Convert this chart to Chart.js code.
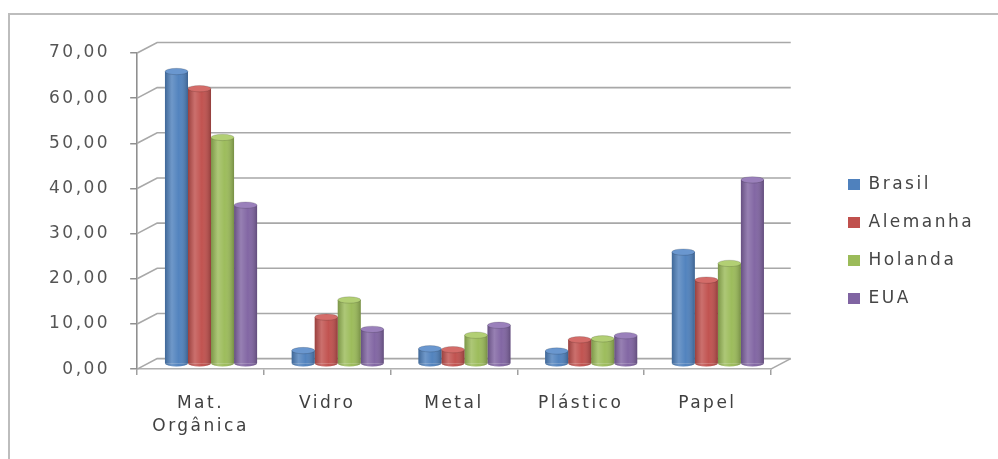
<!DOCTYPE html>
<html>
<head>
<meta charset="utf-8">
<script src="https://cdn.jsdelivr.net/npm/chart.js@4.4.1/dist/chart.umd.min.js"></script>
<style>
    html, body { margin: 0; padding: 0; background: #fff; }
    canvas { display: block; }
</style>
</head>
<body>
<canvas id="chart" width="998" height="459"></canvas>
<script>
/* ================= DATA ================= */

const categories = [["Mat.", "Orgânica"], "Vidro", "Metal", "Plástico", "Papel"];
const seriesNames = ["Brasil", "Alemanha", "Holanda", "EUA"];

const brasil   = [64.8, 3.0, 3.4, 2.9, 24.8];
const alemanha = [61.0, 10.4, 3.2, 5.4, 18.6];
const holanda  = [50.2, 14.2, 6.4, 5.6, 22.3];
const eua      = [35.2, 7.7, 8.6, 6.3, 40.8];

const yMin = 0;
const yMax = 70;
const yStep = 10;

/* ================= STYLE ================= */

const FONT = "'DejaVu Sans', sans-serif";
const SPACING = "2.5px";
const colors = ["#4F81BD", "#C0504D", "#9BBB59", "#8064A2"];
const topColors = ["#6a97cf", "#d46c69", "#b2cf74", "#9a80bb"];

// fake 3D depth of the back wall and of the bars
const DEPTH_X = 20, DEPTH_Y = 10.5;
const BAR_X = 10.5, BAR_Y = 5;
const LEGEND_LEFT = 827, LEGEND_TOP = 155;

/* ================= PLUGINS ================= */

const spacingPlugin = {
    id: "spacing",
    beforeUpdate(chart) { chart.ctx.letterSpacing = SPACING; },
    beforeLayout(chart) { chart.ctx.letterSpacing = SPACING; },
    beforeDraw(chart) { chart.ctx.letterSpacing = SPACING; }
};

const framePlugin = {
    id: "frame",
    beforeDraw(chart) {
        const ctx = chart.ctx;
        ctx.save();
        ctx.strokeStyle = "#bdbdbd";
        ctx.lineWidth = 2;
        ctx.beginPath();
        ctx.moveTo(9, 459);
        ctx.lineTo(9, 14);
        ctx.lineTo(998, 14);
        ctx.stroke();
        ctx.restore();
    }
};

const legendPlace = {
    id: "legendPlace",
    afterLayout(chart) {
        const lg = chart.legend;
        const dx = LEGEND_LEFT - lg.left;
        lg.left += dx;
        lg.right += dx;
        lg.top = LEGEND_TOP;
        lg.bottom = LEGEND_TOP + 21 + 152;
    }
};

const wallPlugin = {
    id: "wall",
    beforeDatasetsDraw(chart) {
        const { ctx, chartArea: a, scales: { y } } = chart;
        ctx.save();
        ctx.strokeStyle = "#a8a8a8";
        ctx.lineWidth = 1.6;
        y.ticks.forEach(t => {
            const py = y.getPixelForValue(t.value);
            ctx.beginPath();
            ctx.moveTo(a.left, py);
            ctx.lineTo(a.left + DEPTH_X, py - DEPTH_Y);
            ctx.lineTo(a.right + DEPTH_X, py - DEPTH_Y);
            ctx.stroke();
        });
        ctx.beginPath();
        ctx.moveTo(a.right, a.bottom);
        ctx.lineTo(a.right + DEPTH_X, a.bottom - DEPTH_Y);
        ctx.stroke();
        ctx.restore();

        // bars sit half way into the depth
        ctx.save();
        ctx.translate(BAR_X, -BAR_Y);
    },
    afterDatasetsDraw(chart) {
        const ctx = chart.ctx;
        chart.data.datasets.forEach((ds, i) => {
            const meta = chart.getDatasetMeta(i);
            meta.data.forEach(bar => {
                const { x, y, base, width } = bar.getProps(["x", "y", "base", "width"], true);
                const l = x - width / 2;
                const r = x + width / 2;
                const ry = 3.2;

                const g = ctx.createLinearGradient(l, 0, r, 0);
                g.addColorStop(0, "rgba(0,0,0,0.2)");
                g.addColorStop(0.3, "rgba(255,255,255,0.18)");
                g.addColorStop(0.6, "rgba(255,255,255,0.02)");
                g.addColorStop(1, "rgba(0,0,0,0.24)");

                // rounded bottom
                ctx.beginPath();
                ctx.ellipse(x, base, width / 2, ry, 0, 0, Math.PI);
                ctx.fillStyle = colors[i];
                ctx.fill();

                ctx.beginPath();
                ctx.rect(l, y, width, base - y);
                ctx.ellipse(x, base, width / 2, ry, 0, 0, Math.PI);
                ctx.fillStyle = g;
                ctx.fill();

                // top cap
                ctx.beginPath();
                ctx.ellipse(x, y, width / 2, ry, 0, 0, Math.PI * 2);
                ctx.fillStyle = topColors[i];
                ctx.fill();
                ctx.strokeStyle = "rgba(0,0,0,0.15)";
                ctx.lineWidth = 1;
                ctx.stroke();
            });
        });
        ctx.restore();
    }
};

/* ================= CHART ================= */

const seriesValues = [brasil, alemanha, holanda, eua];

new Chart(document.getElementById("chart"), {
    type: "bar",
    data: {
        labels: categories,
        datasets: seriesNames.map((name, i) => ({
            label: name,
            data: seriesValues[i],
            backgroundColor: colors[i],
            borderWidth: 0,
            categoryPercentage: 0.727,
            barPercentage: 1.0
        }))
    },
    options: {
        responsive: false,
        animation: false,
        events: [],
        layout: { padding: { left: 29, top: 53, right: 70, bottom: 3 } },
        plugins: {
            tooltip: { enabled: false },
            legend: {
                position: "right",
                labels: {
                    boxWidth: 12,
                    boxHeight: 11,
                    padding: 21,
                    color: "#454545",
                    font: { family: FONT, size: 17 }
                }
            }
        },
        scales: {
            x: {
                grid: {
                    drawOnChartArea: false,
                    drawTicks: true,
                    tickLength: 6,
                    color: "#a0a0a0",
                    lineWidth: 1.5
                },
                border: { display: true, color: "#b0b0b0", width: 1.6 },
                ticks: {
                    color: "#404040",
                    padding: 17.5,
                    maxRotation: 0,
                    autoSkip: false,
                    font: { family: FONT, size: 17, lineHeight: 1.35 }
                }
            },
            y: {
                min: yMin,
                max: yMax,
                grid: {
                    drawOnChartArea: false,
                    drawTicks: true,
                    tickLength: 7,
                    color: "#909090",
                    lineWidth: 1.5
                },
                border: { display: true, color: "#909090", width: 1.6 },
                ticks: {
                    stepSize: yStep,
                    padding: 20,
                    color: "#555",
                    font: { family: FONT, size: 17 },
                    callback: v => v.toFixed(2).replace(".", ",")
                }
            }
        }
    },
    plugins: [spacingPlugin, framePlugin, legendPlace, wallPlugin]
});
</script>
</body>
</html>
